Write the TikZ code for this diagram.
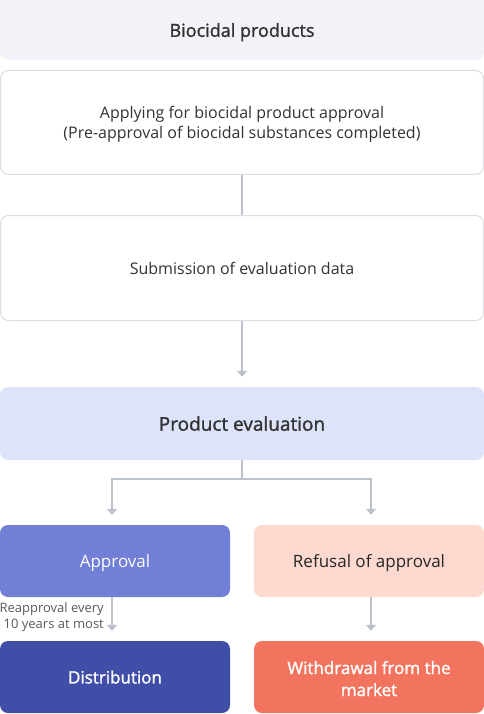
\documentclass[tikz,border=0pt]{standalone}
\usepackage{fontspec}
\setmainfont{Open Sans}
\newfontfamily\semibold{Open Sans}[FakeBold=1.4]
\usetikzlibrary{arrows.meta}
\definecolor{greybg}{HTML}{F2F3F8}
\definecolor{edgegrey}{HTML}{DDDEE2}
\definecolor{linkgrey}{HTML}{BCC2CC}
\definecolor{evalblue}{HTML}{DCE3FA}
\definecolor{approvblue}{HTML}{717FD6}
\definecolor{distblue}{HTML}{404EA8}
\definecolor{refusepink}{HTML}{FDD9CF}
\definecolor{withdrawred}{HTML}{F2745E}
\definecolor{ink}{HTML}{333333}
\tikzset{
    stage/.style={rectangle, rounded corners=8pt, inner sep=0pt, align=center, text depth=0pt,
        text=ink, font=\fontsize{16}{20}\selectfont},
    wide/.style={stage, minimum width=484pt},
    half/.style={stage, minimum width=230pt, minimum height=72pt, font=\fontsize{17}{22}\selectfont},
    link/.style={draw=linkgrey, line width=2pt, -{Triangle[width=10pt,length=6pt]}, shorten >=10pt}
}
\begin{document}
\begin{tikzpicture}[x=1pt, y=-1pt]
        \useasboundingbox (0,0) rectangle (484,714);
        \node (top) [wide, fill=greybg, minimum height=72pt, font=\fontsize{18}{20}\selectfont\semibold] at (242,24) {\raisebox{-12pt}{Biocidal products}};
        \node (apply) [wide, fill=white, draw=edgegrey, line width=1pt, minimum width=483pt, minimum height=104pt] at (242,122.5) {Applying for biocidal product approval\\(Pre-approval of biocidal substances completed)};
        \node (submit) [wide, fill=white, draw=edgegrey, line width=1pt, minimum width=483pt, minimum height=105pt] at (242,268) {Submission of evaluation data};
        \node (evalbox) [wide, fill=evalblue, minimum height=73pt, font=\fontsize{19}{20}\selectfont\semibold] at (242,423.5) {Product evaluation};
        \node (approval) [half, fill=approvblue, text=white] at (115,561) {Approval};
        \node (refusal) [half, fill=refusepink, text=black!85] at (369,561) {Refusal of approval};
        \node (distrib) [half, fill=distblue, text=white, font=\fontsize{17}{22}\selectfont\semibold] at (115,677) {Distribution};
        \node (withdraw) [half, fill=withdrawred, text=white, font=\fontsize{17}{22}\selectfont\semibold] at (369,677) {\raisebox{-3pt}{Withdrawal from the}\\\raisebox{-3pt}{market}};
        \node (reapp) [inner sep=0pt, align=right, anchor=east, text=black!65, font=\fontsize{13}{16}\selectfont] at (104,617) {Reapproval every\\10 years at most};
        % connectors
        \draw [draw=linkgrey, line width=2pt] (apply) -- (submit);
        \draw [link] (submit) -- (evalbox);
        \draw [link] (evalbox.south) -- ++(0,19) -| ([xshift=-3pt]approval.north);
        \draw [link] (evalbox.south) -- ++(0,19) -| ([xshift=2pt]refusal.north);
        \draw [link] ([xshift=-3pt]approval.south) -- ([xshift=-3pt]distrib.north);
        \draw [link] ([xshift=2pt]refusal.south) -- ([xshift=2pt]withdraw.north);
\end{tikzpicture}
\end{document}
